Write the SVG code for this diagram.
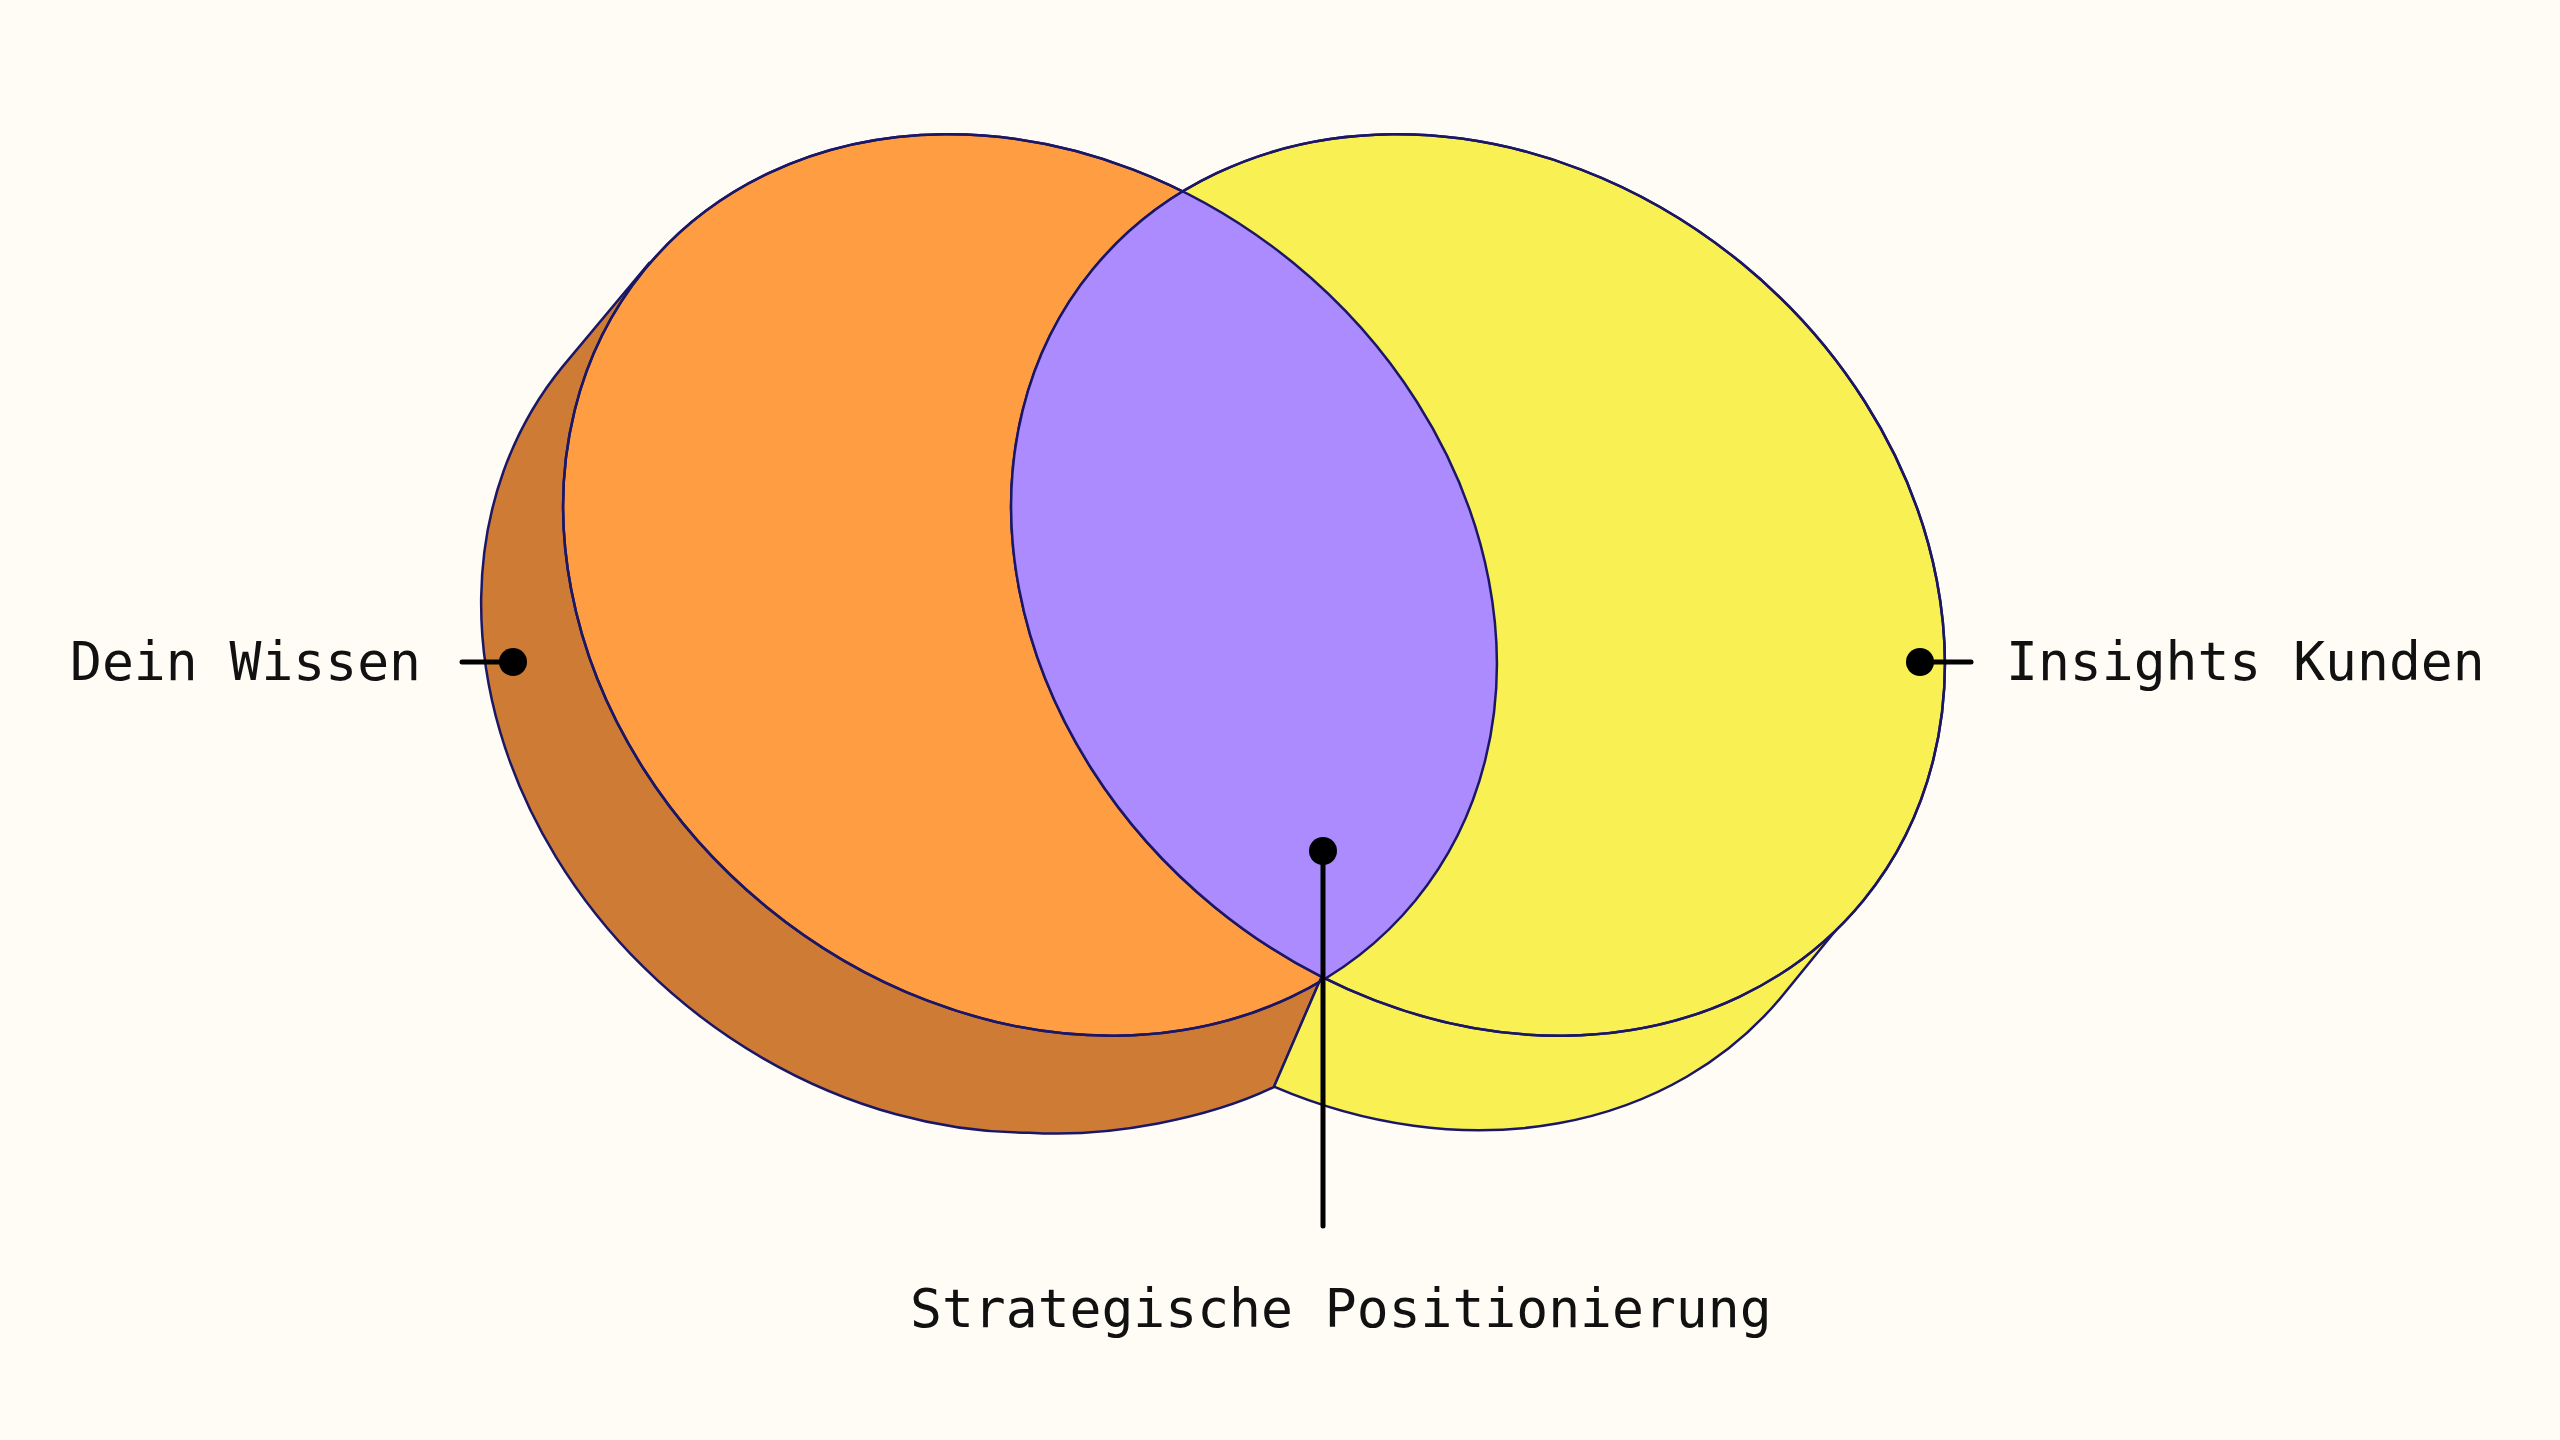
<svg xmlns="http://www.w3.org/2000/svg" width="2560" height="1440" viewBox="0 0 2560 1440">
  <defs>
    <style>
      .outline { stroke: #1b1766; stroke-width: 2.5; stroke-linejoin: round; }
      .label { font-family: "DejaVu Sans Mono", "Liberation Mono", monospace; font-size: 53px; fill: #111111; }
      .lead { stroke: #000000; stroke-width: 5; stroke-linecap: round; fill: none; }
      .dot { fill: #000000; }
    </style>
    <clipPath id="clipOrange">
      <ellipse cx="0" cy="0" rx="498" ry="416" transform="translate(1030 585) rotate(39.3)"/>
    </clipPath>
  </defs>
  <rect x="0" y="0" width="2560" height="1440" fill="#fefcf5"/>

  <g id="node-dein-wissen">
    <path class="outline" fill="#ce7c35" d="M 650,262 L 562.6,366.6 A 498 416 39.3 0 0 1029.4,1132.7 C 1110,1138 1210,1118 1274,1087 L 1321,978"/>
    <ellipse class="outline" fill="#fe9d42" cx="0" cy="0" rx="498" ry="416" transform="translate(1030 585) rotate(39.3)"/>
  </g>

  <g id="node-insights-kunden">
    <path class="outline" fill="#f9f153" d="M 1836,930 L 1783,995 A 498 416 39.3 0 1 1274,1086.7 L 1321,978"/>
    <ellipse class="outline" fill="#f9f153" cx="0" cy="0" rx="498" ry="416" transform="translate(1478 585) rotate(39.3)"/>
  </g>

  <g id="node-strategische-positionierung">
    <g clip-path="url(#clipOrange)">
      <ellipse fill="#ab8bfd" cx="0" cy="0" rx="498" ry="416" transform="translate(1478 585) rotate(39.3)"/>
    </g>
    <ellipse class="outline" fill="none" cx="0" cy="0" rx="498" ry="416" transform="translate(1030 585) rotate(39.3)"/>
    <ellipse class="outline" fill="none" cx="0" cy="0" rx="498" ry="416" transform="translate(1478 585) rotate(39.3)"/>
  </g>

  <g id="connectors">
    <line class="lead" x1="462" y1="662" x2="513" y2="662"/>
    <circle class="dot" cx="513" cy="662" r="14"/>
    <line class="lead" x1="1920" y1="662" x2="1971" y2="662"/>
    <circle class="dot" cx="1920" cy="662" r="14"/>
    <line class="lead" x1="1323" y1="851" x2="1323" y2="1226"/>
    <circle class="dot" cx="1323" cy="851" r="14"/>
  </g>

  <g id="labels">
    <text class="label" x="70" y="680">Dein Wissen</text>
    <text class="label" x="2006" y="680">Insights Kunden</text>
    <text class="label" x="910" y="1327">Strategische Positionierung</text>
  </g>
</svg>
